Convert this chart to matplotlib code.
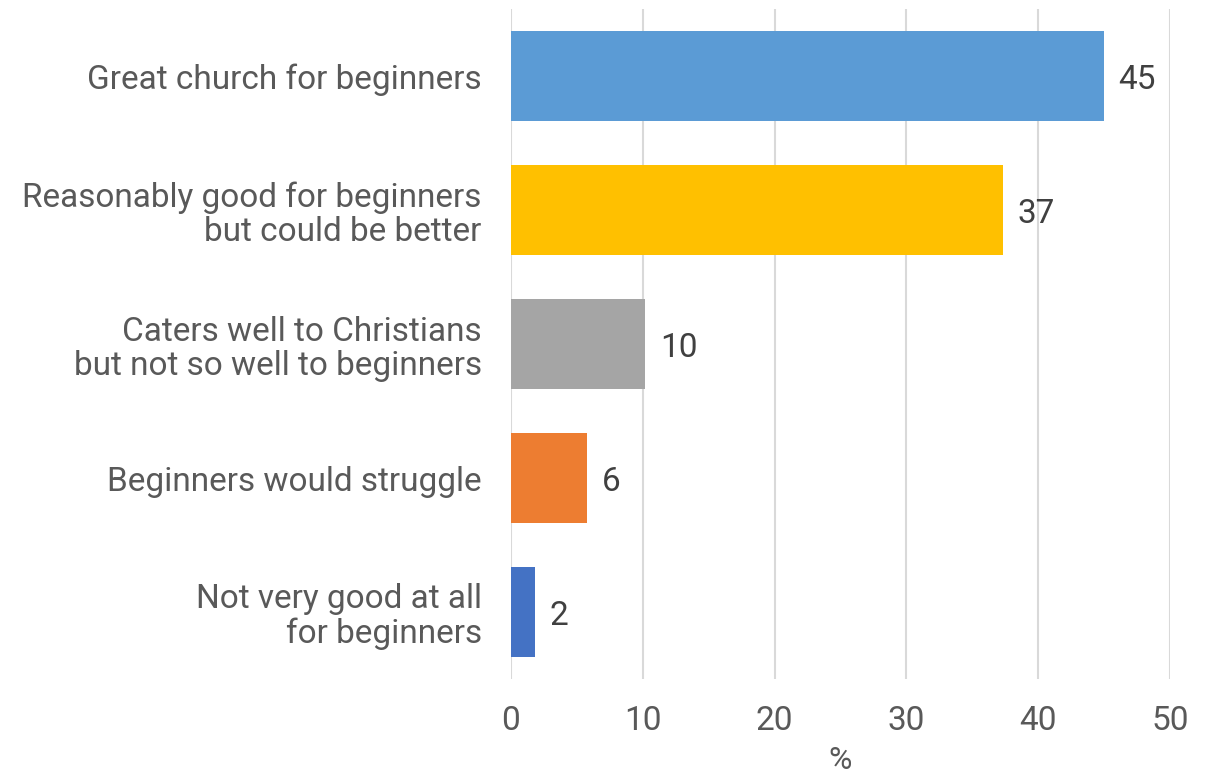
import matplotlib
matplotlib.use("Agg")
from matplotlib import pyplot as plt

# data
categories = [
    "Great church for beginners",
    "Reasonably good for beginners\nbut could be better",
    "Caters well to Christians\nbut not so well to beginners",
    "Beginners would struggle",
    "Not very good at all\nfor beginners",
]
values = [45.0, 37.3, 10.2, 5.8, 1.8]
value_labels = ["45", "37", "10", "6", "2"]
colors = ["#5B9BD5", "#FFC000", "#A5A5A5", "#ED7D31", "#4472C4"]
xticks = [0, 10, 20, 30, 40, 50]

plt.rcParams["font.family"] = ["Roboto", "DejaVu Sans"]

fig = plt.figure(figsize=(12.12, 7.78), dpi=100)
ax = fig.add_axes([0.4216, 0.1272, 0.9653 - 0.4216, 0.9884 - 0.1272])

ypos = list(range(len(categories)))
ax.barh(ypos, values, height=0.67, color=colors, zorder=3)
for y, v, lab in zip(ypos, values, value_labels):
    ax.text(v + 1.1, y, lab, va="center_baseline", ha="left", fontsize=24, color="#404040")

ax.set_ylim(len(categories) - 0.5, -0.5)
ax.set_xlim(0, 50)
ax.set_yticks(ypos)
ax.set_yticklabels(categories, fontsize=24, color="#595959", linespacing=1.1)
ax.set_xticks(xticks)
ax.set_xticklabels([str(t) for t in xticks], fontsize=24, color="#595959")
ax.set_xlabel("%", fontsize=23, color="#595959", labelpad=6)

ax.grid(axis="x", color="#D9D9D9", linewidth=1.5, zorder=0)
for s in ax.spines.values():
    s.set_visible(False)
ax.tick_params(axis="both", length=0)
ax.tick_params(axis="y", pad=21)
ax.tick_params(axis="x", pad=19)

fig.savefig("out.png", dpi=100)
